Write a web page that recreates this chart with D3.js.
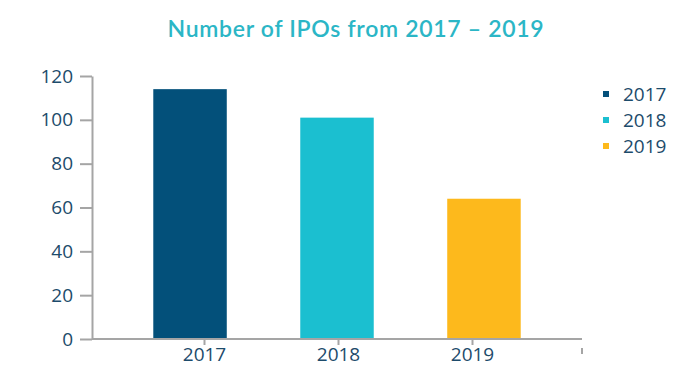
<!DOCTYPE html>
<html>
<head>
<meta charset="utf-8">
<script src="https://cdn.jsdelivr.net/npm/d3@7"></script>
<style>
  body { margin: 0; background: #fff; }
  svg text { font-family: "Open Sans", "Noto Sans", sans-serif; }
</style>
</head>
<body>
<svg id="chart"></svg>
<script>
const WIDTH = 700;
const HEIGHT = 386;

const years = ["2017", "2018", "2019"];
const ipos = [114, 101, 64];
const colors = ["#03507a", "#1bbfd0", "#fdb91c"];
const yTicks = [0, 20, 40, 60, 80, 100, 120];

const svg = d3.select("#chart")
  .attr("width", WIDTH)
  .attr("height", HEIGHT);

const x = d3.scaleBand().domain(years).range([92, 582])
  .paddingInner(0.5).paddingOuter(0.417);
// category labels sit a bit off the bar centres in the original
const xLabel = d3.scalePoint().domain(years).range([204, 472]);
const y = d3.scaleLinear().domain([0, 120]).range([339, 76]);

svg.append("text")
  .attr("x", 356)
  .attr("y", 37)
  .attr("text-anchor", "middle")
  .attr("fill", "#2bb6c6")
  .style("font-family", "Lato, 'Open Sans', sans-serif")
  .style("font-size", "23px")
  .style("font-weight", 600)
  .style("letter-spacing", "0.7px")
  .text("Number of IPOs from 2017 – 2019");

svg.selectAll("rect.bar")
  .data(years)
  .join("rect")
  .attr("class", "bar")
  .attr("x", d => x(d))
  .attr("width", x.bandwidth())
  .attr("y", (d, i) => y(ipos[i]))
  .attr("height", (d, i) => y(0) - y(ipos[i]))
  .attr("fill", (d, i) => colors[i]);

const yAxis = svg.append("g")
  .attr("transform", "translate(92,0)")
  .call(d3.axisLeft(y).tickValues(yTicks).tickSize(12).tickPadding(7).tickSizeOuter(0));

const xAxis = svg.append("g")
  .attr("transform", `translate(0,${y(0)})`)
  .call(d3.axisBottom(xLabel).tickSize(6).tickPadding(3));
xAxis.select(".domain").attr("d", `M92,0H582`);

[yAxis, xAxis].forEach(g => {
  g.select(".domain").attr("stroke", "#a5a5a5").attr("stroke-width", 2);
  g.selectAll(".tick line").attr("stroke", "#a5a5a5").attr("stroke-width", 2);
  g.selectAll(".tick text").attr("fill", "#1d4b6b").style("font-size", "19px");
});

// stray end mark under the axis
svg.append("line")
  .attr("x1", x.range()[1]).attr("x2", x.range()[1])
  .attr("y1", y(0) + 9).attr("y2", y(0) + 15)
  .attr("stroke", "#a5a5a5").attr("stroke-width", 2);

const legend = svg.append("g")
  .selectAll("g")
  .data(years)
  .join("g")
  .attr("transform", (d, i) => `translate(603,${94 + i * 26})`);

legend.append("rect")
  .attr("x", 0).attr("y", -3)
  .attr("width", 6).attr("height", 6)
  .attr("fill", (d, i) => colors[i]);

legend.append("text")
  .attr("x", 20)
  .attr("y", 7)
  .attr("fill", "#1d4b6b")
  .style("font-size", "19px")
  .text(d => d);
</script>
</body>
</html>
